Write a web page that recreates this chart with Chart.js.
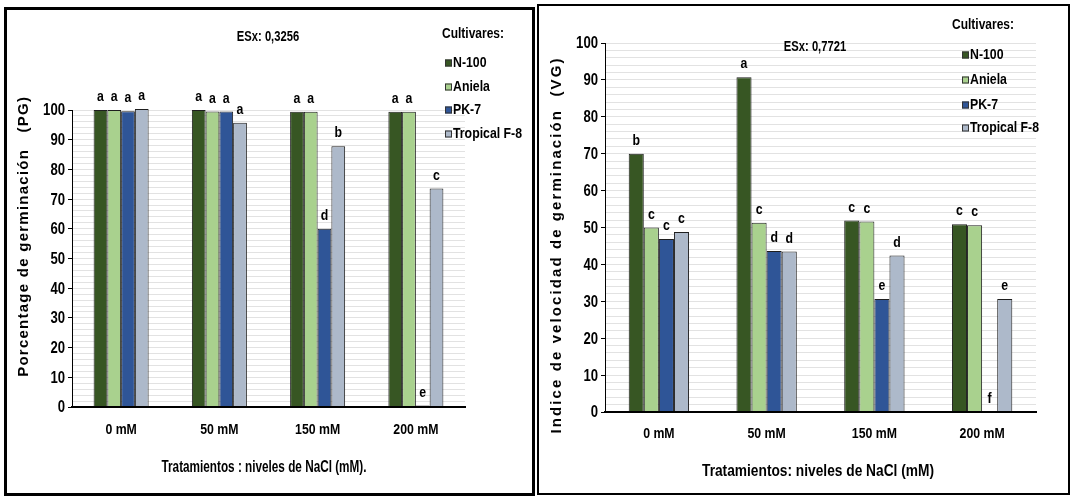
<!DOCTYPE html>
<html lang="es">
<head>
<meta charset="UTF-8">
<title>Germinación con NaCl</title>
<script src="https://cdn.jsdelivr.net/npm/chart.js@4.4.1/dist/chart.umd.min.js"></script>
<style>
    html, body {margin: 0;padding: 0;width: 1078px;height: 503px;overflow: hidden;background: #fff;}
    .panel {position: absolute;border: 3px solid #000;box-sizing: border-box;}
    #boxPG {left: 4px;top: 7px;width: 531px;height: 489px;}
    #boxVG {left: 537px;top: 4px;width: 533px;height: 491px;border-width: 2.5px;}
    canvas {position: absolute;top: 0;}
    #chartPG {left: 0;}
    #chartVG {left: 536px;}
</style>
</head>
<body>
<div class="panel" id="boxPG"></div>
<div class="panel" id="boxVG"></div>
<canvas id="chartPG" width="536" height="503"></canvas>
<canvas id="chartVG" width="542" height="503"></canvas>

<script>
    const FONT = "'Liberation Sans', Arial, sans-serif";
    const NARROW_SX = 0.82; // imitación de Arial Narrow

    const categories = ['0 mM', '50 mM', '150 mM', '200 mM'];
    const cultivars = ['N-100', 'Aniela', 'PK-7', 'Tropical F-8'];
    const colors = ['#375623', '#a9d18e', '#2f5597', '#adb9ca'];

    // Porcentage de germinación (PG)
    const pgN100 = [100, 100, 99.4, 99.4];
    const pgAniela = [100, 99.5, 99.4, 99.4];
    const pgPK7 = [99.6, 99.5, 60, 0.5];
    const pgTropical = [100.3, 95.7, 87.8, 73.6];
    const pgLetN100 = ['a', 'a', 'a', 'a'];
    const pgLetAniela = ['a', 'a', 'a', 'a'];
    const pgLetPK7 = ['a', 'a', 'd', 'e'];
    const pgLetTropical = ['a', 'a', 'b', 'c'];

    // Indice de velocidad de germinación (VG)
    const vgN100 = [70, 90.7, 51.9, 50.9];
    const vgAniela = [50, 51.3, 51.6, 50.6];
    const vgPK7 = [46.9, 43.6, 30.6, 0];
    const vgTropical = [48.8, 43.5, 42.4, 30.6];
    const vgLetN100 = ['b', 'a', 'c', 'c'];
    const vgLetAniela = ['c', 'c', 'c', 'c'];
    const vgLetPK7 = ['c', 'd', 'e', 'f'];
    const vgLetTropical = ['c', 'd', 'd', 'e'];

    const yTicks = [0, 10, 20, 30, 40, 50, 60, 70, 80, 90, 100];

    // texto estrechado horizontalmente
    function narrow(ctx, text, x, y, sx) {
        ctx.save();
        ctx.translate(x, y);
        ctx.scale(sx || NARROW_SX, 1);
        ctx.fillText(text, 0, 0);
        ctx.restore();
    }

    // texto estrechado hasta un ancho dado
    function narrowFit(ctx, text, x, y, width) {
        let w = ctx.measureText(text).width;
        narrow(ctx, text, x, y, width / w);
    }

    // texto con espaciado de letras ajustado a un ancho dado
    function spacedFit(ctx, text, x, y, width) {
        ctx.letterSpacing = '0px';
        let w = ctx.measureText(text).width;
        let ls = (width - w) / text.length;
        ctx.letterSpacing = ls + 'px';
        ctx.fillText(text, x + ls / 2, y);
        ctx.letterSpacing = '0px';
    }

    const decor = {
        id: 'decor',
        afterDatasetsDraw(chart, args, o) {
            const ctx = chart.ctx;
            const xs = chart.scales.x, ys = chart.scales.y;
            ctx.save();
            ctx.fillStyle = '#000';
            ctx.textBaseline = 'middle';

            // etiquetas de los ejes
            ctx.textAlign = 'center';
            ctx.font = 'bold 15px ' + FONT;
            categories.forEach((c, i) => narrow(ctx, c, xs.getPixelForTick(i), o.tickY));
            ctx.textAlign = 'right';
            ctx.font = 'bold 16px ' + FONT;
            yTicks.forEach(v => narrow(ctx, String(v), ys.left + ys.width - 7, ys.getPixelForValue(v) + 1));

            // letras de significación
            ctx.textAlign = 'center';
            ctx.font = 'bold 15px ' + FONT;
            chart.data.datasets.forEach((ds, i) => {
                chart.getDatasetMeta(i).data.forEach((bar, j) => {
                    narrow(ctx, ds.letters[j], bar.x, bar.y - 13);
                });
            });

            // ESx
            ctx.font = 'bold 14px ' + FONT;
            narrow(ctx, o.esx, o.esxX, o.esxY, 0.8);

            // leyenda
            ctx.textAlign = 'left';
            ctx.font = 'bold 15px ' + FONT;
            narrow(ctx, 'Cultivares:', o.legX, o.legY, 0.8);
            chart.data.datasets.forEach((ds, i) => {
                let y = o.itemY[i];
                ctx.fillStyle = ds.backgroundColor;
                ctx.fillRect(o.sqX, y - 3.5, 7, 7);
                ctx.strokeStyle = '#333';
                ctx.lineWidth = 1;
                ctx.strokeRect(o.sqX + 0.5, y - 3, 6, 6);
                ctx.fillStyle = '#000';
                narrow(ctx, ds.label, o.sqX + 8, y);
            });

            // títulos de ejes
            ctx.textAlign = 'center';
            ctx.font = 'bold 16px ' + FONT;
            narrowFit(ctx, o.xTitle, o.xtX, o.xtY, o.xtW);

            ctx.font = 'bold 15px ' + FONT;
            ctx.translate(o.ytX, o.ytY);
            ctx.rotate(-Math.PI / 2);
            spacedFit(ctx, o.yTitle, 0, 0, o.ytW);
            ctx.restore();
        }
    };

    function makeSets(values, letters) {
        return cultivars.map((name, i) => ({
            label: name,
            data: values[i],
            letters: letters[i],
            backgroundColor: colors[i],
            borderColor: '#1e1e1e',
            borderWidth: 1,
            borderSkipped: 'bottom',
            categoryPercentage: 0.56,
            barPercentage: 1,
            clip: false
        }));
    }

    function newChart(id, sets, pad, yWidth, xHeight, deco) {
        return new Chart(document.getElementById(id), {
            type: 'bar',
            data: {labels: categories, datasets: sets},
            plugins: [decor],
            options: {
                responsive: false,
                animation: false,
                layout: {padding: pad},
                plugins: {
                    legend: {display: false},
                    tooltip: {enabled: false},
                    decor: deco
                },
                scales: {
                    x: {
                        grid: {display: false, drawTicks: false},
                        border: {color: '#000', width: 2, z: 1},
                        ticks: {display: false},
                        afterFit: s => { s.height = xHeight; }
                    },
                    y: {
                        min: 0,
                        max: 100,
                        ticks: {stepSize: 2, autoSkip: false, display: false},
                        grid: {
                            color: '#e2e2e2',
                            tickLength: 4,
                            tickColor: c => yTicks.includes(c.tick.value) ? '#000' : 'rgba(0,0,0,0)'
                        },
                        border: {color: '#000', width: 1},
                        afterFit: s => { s.width = yWidth; }
                    }
                }
            }
        });
    }

    newChart('chartPG',
        makeSets([pgN100, pgAniela, pgPK7, pgTropical], [pgLetN100, pgLetAniela, pgLetPK7, pgLetTropical]),
        {left: 0, top: 110, right: 71, bottom: 0}, 72, 96,
        {
            tickY: 430,
            esx: 'ESx: 0,3256', esxX: 268, esxY: 37,
            legX: 442, legY: 34, sqX: 445, itemY: [63, 87, 110, 134],
            xTitle: 'Tratamientos : niveles de NaCl (mM).', xtX: 264, xtY: 468, xtW: 205,
            yTitle: 'Porcentage de germinación   (PG)', ytX: 24, ytY: 237, ytW: 281
        });

    newChart('chartVG',
        makeSets([vgN100, vgAniela, vgPK7, vgTropical], [vgLetN100, vgLetAniela, vgLetPK7, vgLetTropical]),
        {left: 0, top: 43, right: 42, bottom: 0}, 69, 91,
        {
            tickY: 434,
            esx: 'ESx: 0,7721', esxX: 279, esxY: 47,
            legX: 416, legY: 25, sqX: 426, itemY: [55, 80, 105, 128],
            xTitle: 'Tratamientos: niveles de NaCl (mM)', xtX: 282, xtY: 472, xtW: 232,
            yTitle: 'Indice de velocidad de germinación  (VG)', ytX: 21, ytY: 246, ytW: 377
        });
</script>
</body>
</html>
